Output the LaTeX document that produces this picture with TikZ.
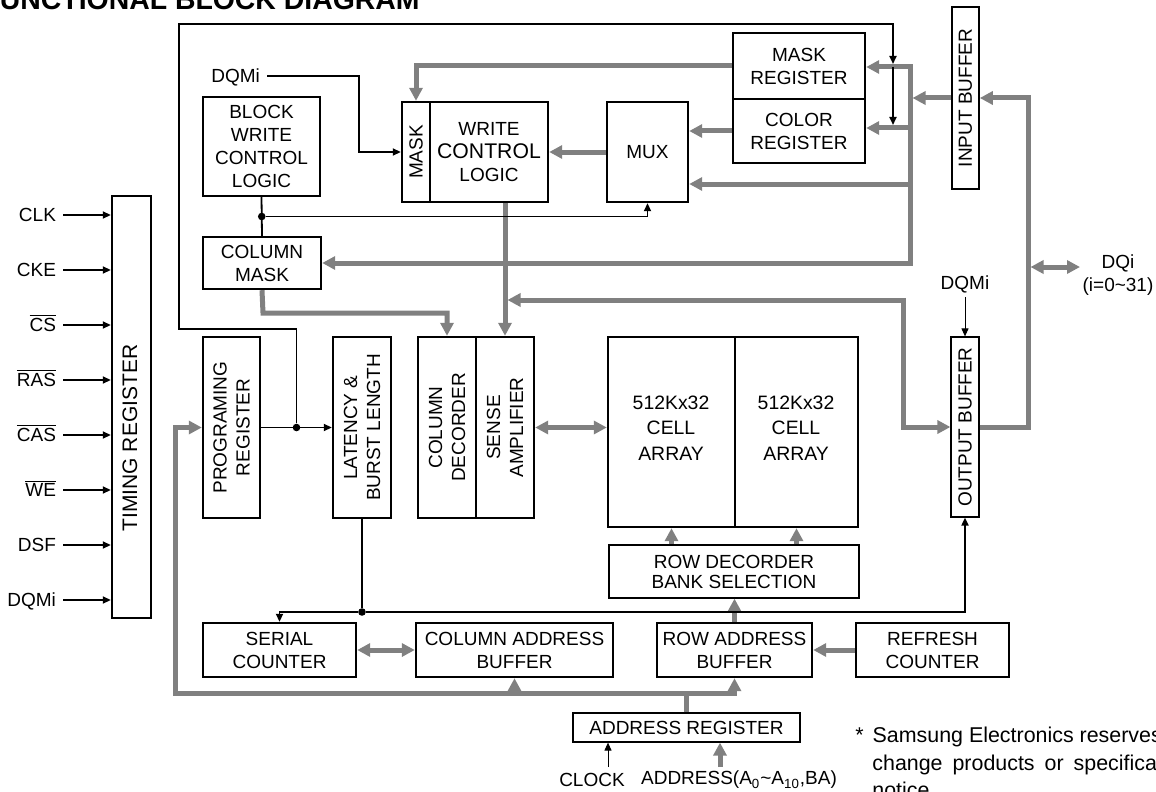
\documentclass[tikz,border=0pt]{standalone}
\usepackage{fontspec}
\setmainfont{Liberation Sans}
\usetikzlibrary{arrows.meta,fit,calc}
\tikzset{
	blk/.style={draw,line width=1.2pt,inner sep=0pt},
	thinblk/.style={blk,line width=0.6pt},
	txt/.style={align=center},
	note/.style={anchor=base west,inner sep=0pt,font=\fontsize{10.7pt}{14pt}\selectfont},
	bus/.style={draw=gray,line width=2.5pt,line join=miter},
	busarr/.style={bus,-{Triangle[length=6.5pt,width=6.5pt]}},
	busdbl/.style={bus,{Triangle[length=6.5pt,width=6.5pt]}-{Triangle[length=6.5pt,width=6.5pt]}},
	wire/.style={line width=0.9pt},
	sig/.style={wire,-{Triangle[length=4pt,width=3.5pt]}},
	thinsig/.style={line width=0.5pt,-{Triangle[length=4pt,width=3.5pt]}},
	dot/.style={circle,fill,inner sep=0pt,minimum size=3.8pt},
	lbl/.style={text height=6.8pt,text depth=0pt}
}
\begin{document}
\begin{tikzpicture}[x=0.5pt,y=-0.5pt,font=\fontsize{9.5pt}{11.5pt}\selectfont]
				\useasboundingbox (0,0) rectangle (1156,792);
				\clip (0,0) rectangle (1156,792);
				\node[anchor=base east,inner sep=0pt,font=\bfseries\fontsize{14.2pt}{17pt}\selectfont] (TT) at (420,10) {FUNCTIONAL BLOCK DIAGRAM};
				\node[blk,fit={(112,196) (151,618)}] (TR) {};
				\node[blk,fit={(203,97) (320,196)}] (BW) {};
				\node[blk,fit={(203,237) (321,289)}] (CM) {};
				\node[blk,fit={(203,337) (260,518)}] (PR) {};
				\node[blk,fit={(333,337) (391,518)}] (LAT) {};
				\node[blk,fit={(418,337) (476,518)}] (CD) {};
				\node[blk,fit={(476,337) (534,518)}] (SA) {};
				\node[blk,fit={(608,337) (735,527)}] (CA1) {};
				\node[blk,fit={(735,337) (858,527)}] (CA2) {};
				\node[thinblk,fit={(609,545) (859,598)}] (RD) {};
				\node[blk,fit={(203,623) (356,677)}] (SC) {};
				\node[blk,fit={(416,623) (613,677)}] (CAB) {};
				\node[blk,fit={(657,623) (812,677)}] (RAB) {};
				\node[blk,fit={(856,623) (1009,677)}] (RC) {};
				\node[thinblk,fit={(573,713) (800,742)}] (AR) {};
				\node[blk,fit={(402,102) (430,202)}] (MK) {};
				\node[blk,fit={(430,102) (548,202)}] (WC) {};
				\node[blk,fit={(607,102) (688,202)}] (MUX) {};
				\node[blk,fit={(733,33) (865,99)}] (MR) {};
				\node[blk,fit={(733,99) (865,163)}] (CR) {};
				\node[blk,line width=0.8pt,fit={(952,7) (979,189)}] (IB) {};
				\node[thinblk,fit={(951,337) (979,517)}] (OB) {};
				\node[txt] (BWt) at (BW) {BLOCK\\WRITE\\CONTROL\\LOGIC};
				\node[txt] (CMt) at (CM) {COLUMN\\MASK};
				\node[txt,font=\fontsize{9.7pt}{12.75pt}\selectfont] (CA1t) at (671,428) {512Kx32\\CELL\\ARRAY};
				\node[txt,font=\fontsize{9.7pt}{12.75pt}\selectfont] (CA2t) at (796,428) {512Kx32\\CELL\\ARRAY};
				\node[txt,font=\fontsize{9.5pt}{10pt}\selectfont] (RDt) at (RD) {ROW DECORDER\\BANK SELECTION};
				\node[txt] (SCt) at (SC) {SERIAL\\COUNTER};
				\node[txt] (CABt) at (CAB) {COLUMN ADDRESS\\BUFFER};
				\node[txt] (RABt) at (RAB) {ROW ADDRESS\\BUFFER};
				\node[txt] (RCt) at (RC) {REFRESH\\COUNTER};
				\node[txt] (ARt) at (AR) {ADDRESS REGISTER};
				\node[txt] (WCt) at (WC) {WRITE\\{\fontsize{10.6pt}{12pt}\selectfont CONTROL}\\LOGIC};
				\node[txt] (MUXt) at (MUX) {MUX};
				\node[txt] (MRt) at (MR) {MASK\\REGISTER};
				\node[txt] (CRt) at (CR) {COLOR\\REGISTER};
				\node[rotate=90,font=\fontsize{10.5pt}{12pt}\selectfont] (TRt) at (130,438) {TIMING REGISTER};
				\node[rotate=90,txt] (PRt) at (PR) {PROGRAMING\\REGISTER};
				\node[rotate=90,txt] (LATt) at (LAT) {LATENCY \&\\BURST LENGTH};
				\node[rotate=90,txt] (CDt) at (CD) {COLUMN\\DECORDER};
				\node[rotate=90,txt] (SAt) at (SA) {SENSE\\AMPLIFIER};
				\node[rotate=90] (MKt) at (MK) {MASK};
				\node[rotate=90] (IBt) at (IB) {INPUT BUFFER};
				\node[rotate=90] (OBt) at (OB) {OUTPUT BUFFER};
				\foreach \t [count=\i] in {CLK,CKE,$\overline{\hbox{CS}}$,$\overline{\hbox{RAS}}$,$\overline{\hbox{CAS}}$,$\overline{\hbox{WE}}$,DSF,DQMi}{
					\node[lbl,anchor=east] (I\i) at (63,160+55*\i) {\t};
					\draw[sig] (I\i.east) -- (I\i.east -| TR.west);
				}
				\node[lbl,anchor=east] (DQ1) at (267,76) {DQMi};
				\node[lbl] (DQ2) at (965,283) {DQMi};
				\node[txt] (DQ) at (1118,275) {DQi\\(i=0\textasciitilde31)};
				\node (CK) at (592,780) {CLOCK};
				\node (AD) at (739,780) {ADDRESS(A\textsubscript{0}\textasciitilde A\textsubscript{10},BA)};
				\node[note] (N1) at (855,742) {*\hspace{4.5pt}Samsung Electronics reserves};
				\node[note] (N2) at (872,770) {change\hspace{5pt}products\hspace{5pt}or\hspace{5pt}specification};
				\node[note] (N3) at (872,797) {notice};
				\coordinate (b1) at (910,67);
				\coordinate (b2) at (910,263);
				\coordinate (b3) at (910,184);
				\coordinate (b4) at (910,128);
				\coordinate (d1) at (1028,267);
				\coordinate (d2) at (1080,267);
				\coordinate (o1) at (903,300);
				\coordinate (c1) at (263,313);
				\coordinate (a1) at (175,693);
				\coordinate (ad) at (720,767);
				\coordinate (ck) at (608,767);
				\coordinate (q1) at (359,76);
				\coordinate (k1) at (179,329);
				\coordinate (k2) at (893,24);
				\draw[busarr] (MR.west) -| (MK.north);
				\draw[busarr] (CR.west) -- (MUX.east |- CR.west);
				\draw[busarr] (MUX.west) -- (WC.east |- MUX.west);
				\draw[busdbl] (MR.east |- b1) -- (b1) -- (b2) -- (CM.east |- b2);
				\draw[busarr] (b4) -- (CR.east |- b4);
				\draw[busarr] (b3) -- (MUX.east |- b3);
				\draw[busarr,shorten >=1.25pt] (IB.west) -- (b1 |- IB.west);
				\draw[busarr] (OB.east) -| (d1) |- (IB.east);
				\draw[busdbl,shorten <=1.25pt] (d1) -- (d2);
				\draw[busarr] (WC.south -| SA.north) -- (SA.north);
				\draw[busdbl,shorten <=1.25pt] (SA.north |- o1) -- (o1) |- (OB.west);
				\draw[busarr] (CM.south) -- (c1) -| (CD.north);
				\draw[busdbl] (SA.east) -- (CA1.west |- SA.east);
				\draw[busarr] (CA1.south |- RD.north) -- (CA1.south);
				\draw[busarr] (CA2.south |- RD.north) -- (CA2.south);
				\draw[busarr] (RAB.north) -- (RAB.north |- RD.south);
				\draw[busarr] (RC.west) -- (RAB.east);
				\draw[busdbl] (SC.east) -- (CAB.west);
				\draw[bus] (AR.north) -- (AR.north |- a1);
				\draw[busdbl] (RAB.south) |- (a1) |- (PR.west);
				\draw[busarr] (CAB.south |- a1) -- (CAB.south);
				\draw[busarr] (ad) -- (ad |- AR.south);
				\node[dot] (D1) at ($(PR.east)!0.5!(LAT.west)$) {};
				\node[dot] (D2) at ($(BW.south)!0.5!(CM.north)$) {};
				\node[dot] (D3) at (362,612) {};
				\draw[sig] (PR.east) -- (LAT.west);
				\draw[sig,shorten >=1.5pt] (D1) |- (k1) |- (k2) -- (k2 |- b1);
				\draw[sig,shorten >=1.5pt] (k2 |- b1) -- (k2 |- b4);
				\draw[wire] (BW.south) -- (CM.north);
				\draw[sig] (D2) -| (MUX.south);
				\draw[sig] (DQ1.east) -- (q1) |- (MK.west);
				\draw[wire] (LAT.south) -- (D3);
				\draw[sig] (D3) -| (SC.north);
				\draw[sig] (D3) -| (OB.south);
				\draw[thinsig] (DQ2) -- (OB.north);
				\draw[thinsig] (ck) -- (ck |- AR.south);
			\end{tikzpicture}
\end{document}
